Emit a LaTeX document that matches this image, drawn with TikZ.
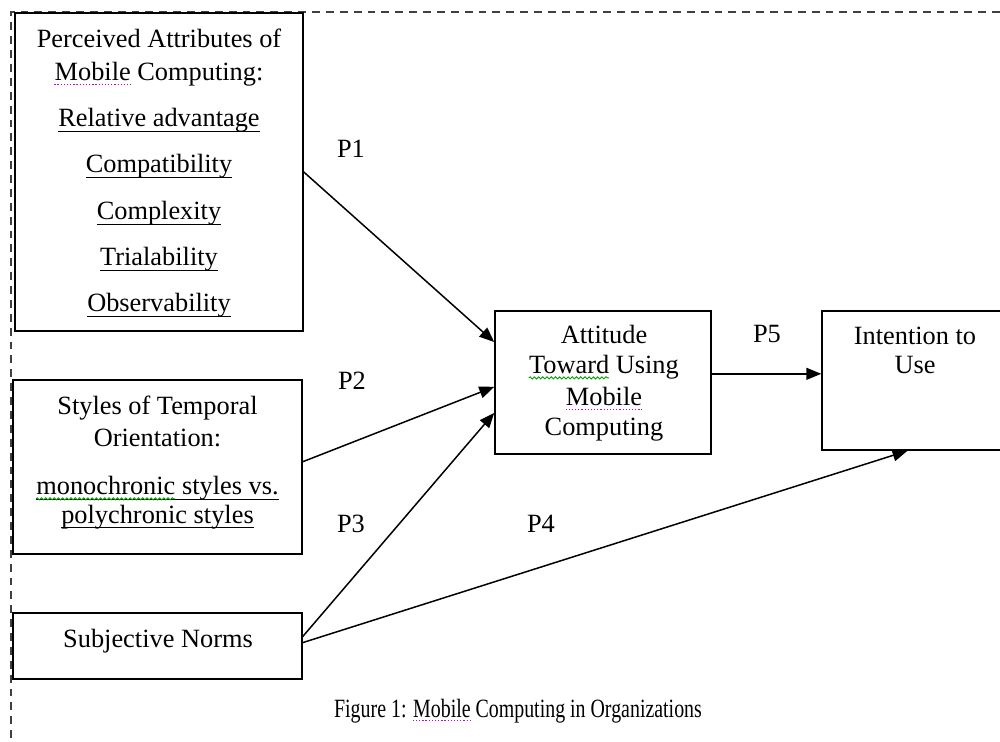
\documentclass[tikz,border=0pt]{standalone}
\usepackage{fontspec}
\usepackage{graphicx}
\setmainfont{Liberation Serif}
\usetikzlibrary{arrows.meta,calc,decorations.pathmorphing}
\newcommand{\myul}[1]{\setbox0\hbox{#1}\rlap{\vrule width\wd0 height -2.0pt depth 2.8pt}\box0}
\newcommand{\capfont}{\fontsize{15}{18}\selectfont}
\newlength\wMob
\newlength\wTow
\newlength\wMono
\newlength\wFig
\definecolor{spellred}{RGB}{200,0,200}
\definecolor{spellgreen}{RGB}{0,160,0}
\begin{document}
\settowidth\wMob{\capfont Mobile}
\settowidth\wTow{\capfont Toward}
\settowidth\wMono{\capfont monochronic}
\settowidth\wFig{\capfont Figure 1: }
\begin{tikzpicture}[x=0.02cm,y=-0.02cm,
  box/.style={draw=black, line width=0.9pt, inner sep=0pt, fill=none},
  txt/.style={anchor=base, inner sep=0pt, font=\capfont},
  conn/.style={line width=0.85pt, -{Triangle[length=8.5pt,width=6.8pt]}},
  plabel/.style={anchor=base, inner sep=0pt, font=\capfont},
  frame/.style={draw=black!75, line width=1pt, dash pattern=on 4.5pt off 3.4pt},
  spelldot/.style={draw=spellred, line width=0.7pt, dash pattern=on 0.7pt off 1.1pt},
  spellwave/.style={draw=spellgreen, line width=0.5pt, decorate, decoration={snake, amplitude=0.6pt, segment length=2.4pt}}]
\useasboundingbox (0,0) rectangle (1000,742);
% dashed frame
\draw[frame] (1000,12) -- (11,12) -- (11,742);

% boxes
\node[box, minimum width=5.76cm, minimum height=6.36cm] (b1) at (159,172) {};
\node[box, minimum width=5.78cm, minimum height=3.48cm] (b2) at (157.5,467) {};
\node[box, minimum width=5.78cm, minimum height=1.32cm] (b3) at (157.5,646) {};
\node[box, minimum width=4.32cm, minimum height=2.86cm] (att) at (603,382.5) {};
\node[box, minimum width=3.72cm, minimum height=2.78cm] (int) at (915,380.5) {};

% box 1 text
\node[txt] (t11) at (159,48) {Perceived Attributes of};
\node[txt] (t12) at (159,81) {Mobile Computing:};
\node[txt] (t13) at (159,127) {\myul{Relative advantage}};
\node[txt] (t14) at (159,173) {\myul{Compatibility}};
\node[txt] (t15) at (159,220) {\myul{Complexity}};
\node[txt] (t16) at (159,266) {\myul{Trialability}};
\node[txt] (t17) at (159,312) {\myul{Observability}};

% box 2 text
\node[txt] (t21) at (157.5,415) {Styles of Temporal};
\node[txt] (t22) at (157.5,447) {Orientation:};
\node[txt] (t23) at (157.5,495) {\myul{monochronic styles vs.}};
\node[txt] (t24) at (157.5,523) {\myul{polychronic styles}};

% box 3 text
\node[txt] (t31) at (158,647) {Subjective Norms};

% attitude text
\node[txt] (ta1) at (604,344) {Attitude};
\node[txt] (ta2) at (604,374) {Toward Using};
\node[txt] (ta3) at (604,406) {Mobile};
\node[txt] (ta4) at (604,436) {Computing};

% intention text
\node[txt] (ti1) at (915,345) {Intention to};
\node[txt] (ti2) at (915,374) {Use};

% connectors
\coordinate (s1) at ($(b1.north east)!0.50!(b1.south east)$);
\coordinate (e1) at ($(att.north west)!0.22!(att.south west)$);
\draw[conn] (s1) -- (e1);

\coordinate (s2) at ($(b2.north east)!0.47!(b2.south east)$);
\coordinate (e2) at ($(att.north west)!0.53!(att.south west)$);
\draw[conn] (s2) -- (e2);

\coordinate (s3) at ($(b3.north east)!0.36!(b3.south east)$);
\coordinate (e3) at ($(att.north west)!0.71!(att.south west)$);
\draw[conn] (s3) -- (e3);

\coordinate (s4) at ($(b3.north east)!0.45!(b3.south east)$);
\coordinate (e4) at ($(int.south west)!0.46!(int.south east)$);
\draw[conn] (s4) -- (e4);

\coordinate (s5) at ($(att.north east)!0.44!(att.south east)$);
\draw[conn] (s5) -- (s5 -| int.west);

% labels
\node[plabel] (p1) at (351,158) {P1};
\node[plabel] (p2) at (352,390) {P2};
\node[plabel] (p3) at (351,533) {P3};
\node[plabel] (p4) at (541,533) {P4};
\node[plabel] (p5) at (767,343) {P5};

% caption
\node[txt] (cap) at (518,717) {\scalebox{0.755}[1]{Figure 1: Mobile Computing in Organizations}};

% spell-check marks
\draw[spelldot] ([yshift=-1.8pt]t12.base west) -- ++(\wMob,0pt);
\draw[spelldot] ([yshift=-1.8pt]ta3.base west) -- ++(\wMob,0pt);
\draw[spellwave] ([yshift=-2.2pt]ta2.base west) -- ++(\wTow,0pt);
\draw[spellwave] ([yshift=-2.2pt]t23.base west) -- ++(\wMono,0pt);
\draw[spelldot] ([yshift=-1.8pt,xshift=0.755\wFig]cap.base west) -- ++(0.755\wMob,0pt);
\end{tikzpicture}
\end{document}
